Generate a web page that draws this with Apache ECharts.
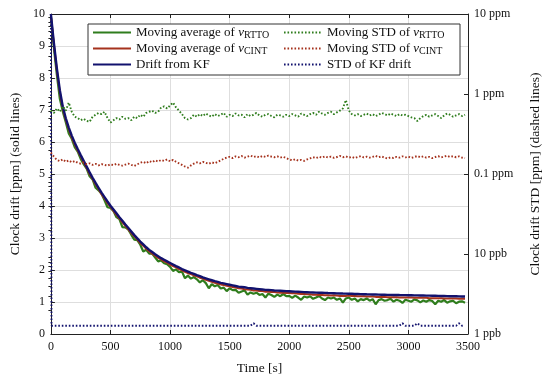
<!DOCTYPE html>
<html><head><meta charset="utf-8">
<script src="https://cdn.jsdelivr.net/npm/echarts@6/dist/echarts.min.js"></script>
<style>html,body{margin:0;padding:0;background:#fff}#c{width:550px;height:380px}</style>
</head><body><div id="c"></div>
<script>
// ---- data (time grid in seconds) ----
const times = [
0,25,50,75,100,125,150,175,200,225,
250,275,300,325,350,375,400,425,450,475,
500,525,550,575,600,625,650,675,700,725,
750,775,800,825,850,875,900,925,950,975,
1000,1025,1050,1075,1100,1125,1150,1175,1200,1225,
1250,1275,1300,1325,1350,1375,1400,1425,1450,1475,
1500,1525,1550,1575,1600,1625,1650,1675,1700,1725,
1750,1775,1800,1825,1850,1875,1900,1925,1950,1975,
2000,2025,2050,2075,2100,2125,2150,2175,2200,2225,
2250,2275,2300,2325,2350,2375,2400,2425,2450,2475,
2500,2525,2550,2575,2600,2625,2650,2675,2700,2725,
2750,2775,2800,2825,2850,2875,2900,2925,2950,2975,
3000,3025,3050,3075,3100,3125,3150,3175,3200,3225,
3250,3275,3300,3325,3350,3375,3400,3425,3450,3475];

// Drift from KF [ppm]
const kfDrift = [
10.0,9.10,8.30,7.62,7.10,6.74,6.45,6.20,5.98,5.78,
5.59,5.41,5.23,5.05,4.88,4.72,4.57,4.42,4.28,4.14,
4.01,3.89,3.77,3.65,3.54,3.42,3.31,3.20,3.09,2.99,
2.89,2.80,2.71,2.63,2.56,2.49,2.43,2.37,2.32,2.27,
2.22,2.17,2.12,2.08,2.03,1.99,1.95,1.91,1.88,1.84,
1.81,1.77,1.74,1.71,1.68,1.65,1.63,1.60,1.58,1.56,
1.54,1.52,1.50,1.48,1.47,1.46,1.44,1.43,1.42,1.41,
1.40,1.39,1.38,1.375,1.37,1.36,1.355,1.35,1.345,1.34,
1.335,1.33,1.325,1.32,1.315,1.31,1.305,1.30,1.297,1.294,
1.29,1.287,1.284,1.28,1.277,1.274,1.27,1.267,1.264,1.262,
1.26,1.256,1.252,1.25,1.247,1.244,1.24,1.238,1.236,1.233,
1.23,1.228,1.226,1.224,1.222,1.22,1.222,1.218,1.215,1.214,
1.212,1.21,1.208,1.206,1.205,1.203,1.20,1.198,1.196,1.194,
1.19,1.188,1.186,1.184,1.182,1.18,1.178,1.176,1.174,1.17];

// Moving average of nu_RTTO [ppm]
const avgRTTO = [
9.90,8.95,8.10,7.35,6.95,6.62,6.27,6.10,5.84,5.70,
5.47,5.31,5.17,4.93,4.83,4.57,4.49,4.38,4.18,3.96,
3.94,3.84,3.65,3.59,3.34,3.33,3.26,3.10,2.95,2.93,
2.79,2.58,2.63,2.51,2.51,2.39,2.27,2.30,2.21,2.18,
2.10,1.97,2.02,1.93,1.95,1.74,1.83,1.73,1.78,1.71,
1.61,1.68,1.59,1.43,1.56,1.49,1.53,1.42,1.45,1.34,
1.43,1.37,1.38,1.29,1.33,1.36,1.23,1.30,1.26,1.29,
1.22,1.25,1.14,1.26,1.22,1.16,1.23,1.18,1.25,1.18,
1.19,1.13,1.20,1.14,1.07,1.17,1.14,1.18,1.10,1.14,
1.19,1.11,1.06,1.14,1.11,1.14,1.07,1.11,0.98,1.11,
1.14,1.07,1.11,1.02,1.09,1.06,1.11,1.04,1.09,0.93,
1.06,1.09,1.04,1.06,1.10,1.01,1.07,1.04,0.97,1.07,
1.04,1.01,1.08,1.05,0.99,1.05,1.01,1.06,1.03,0.93,
1.04,1.01,1.06,0.98,1.02,1.04,0.96,1.01,1.02,0.98];

// Moving average of nu_CINT [ppm]
const avgCINT = [
9.95,9.05,8.24,7.55,7.04,6.69,6.40,6.14,5.93,5.73,
5.55,5.36,5.19,5.00,4.84,4.67,4.53,4.37,4.24,4.09,
3.97,3.85,3.72,3.61,3.49,3.38,3.27,3.15,3.05,2.95,
2.84,2.76,2.66,2.59,2.51,2.45,2.38,2.33,2.27,2.23,
2.17,2.12,2.08,2.03,1.99,1.94,1.90,1.87,1.83,1.80,
1.76,1.73,1.69,1.66,1.63,1.60,1.58,1.55,1.53,1.51,
1.49,1.47,1.45,1.43,1.42,1.40,1.39,1.38,1.36,1.36,
1.34,1.34,1.32,1.32,1.31,1.31,1.30,1.29,1.29,1.28,
1.28,1.27,1.27,1.26,1.25,1.25,1.24,1.24,1.23,1.23,
1.22,1.22,1.21,1.21,1.20,1.21,1.20,1.19,1.19,1.19,
1.20,1.19,1.19,1.18,1.18,1.18,1.17,1.17,1.17,1.16,
1.16,1.16,1.16,1.15,1.15,1.15,1.15,1.14,1.14,1.14,
1.14,1.14,1.13,1.13,1.13,1.13,1.13,1.12,1.12,1.12,
1.12,1.12,1.11,1.11,1.11,1.11,1.11,1.10,1.10,1.10];

// Moving STD of nu_RTTO [ppm] (right, log axis)
const stdRTTO = [
0.62,0.58,0.66,0.60,0.70,0.62,0.78,0.60,0.52,0.50,
0.47,0.49,0.46,0.45,0.52,0.55,0.58,0.56,0.60,0.50,
0.44,0.47,0.50,0.48,0.52,0.49,0.50,0.47,0.52,0.50,
0.55,0.52,0.58,0.60,0.62,0.58,0.60,0.68,0.70,0.66,
0.72,0.78,0.68,0.62,0.56,0.50,0.48,0.50,0.55,0.52,
0.56,0.53,0.57,0.54,0.52,0.56,0.53,0.55,0.58,0.52,
0.55,0.53,0.57,0.54,0.55,0.51,0.56,0.53,0.55,0.58,
0.54,0.52,0.55,0.56,0.53,0.51,0.55,0.54,0.52,0.55,
0.53,0.56,0.54,0.52,0.57,0.55,0.53,0.56,0.58,0.55,
0.60,0.57,0.55,0.58,0.60,0.56,0.59,0.62,0.66,0.84,
0.62,0.56,0.54,0.56,0.53,0.55,0.57,0.54,0.56,0.53,
0.55,0.58,0.56,0.54,0.57,0.55,0.53,0.56,0.54,0.55,
0.53,0.51,0.50,0.46,0.50,0.53,0.55,0.52,0.54,0.56,
0.53,0.50,0.54,0.57,0.55,0.52,0.54,0.56,0.53,0.55];

// Moving STD of nu_CINT [ppm]
const stdCINT = [
0.185,0.165,0.150,0.145,0.152,0.142,0.148,0.140,0.145,0.138,
0.135,0.140,0.132,0.136,0.130,0.134,0.128,0.133,0.130,0.127,
0.132,0.129,0.134,0.130,0.127,0.131,0.135,0.130,0.126,0.132,
0.138,0.142,0.136,0.145,0.140,0.148,0.143,0.150,0.146,0.152,
0.144,0.150,0.142,0.136,0.130,0.124,0.120,0.128,0.135,0.140,
0.136,0.142,0.138,0.134,0.140,0.136,0.142,0.148,0.155,0.160,
0.164,0.158,0.166,0.162,0.168,0.160,0.165,0.170,0.163,0.167,
0.161,0.168,0.164,0.170,0.165,0.162,0.166,0.160,0.164,0.158,
0.152,0.148,0.153,0.147,0.150,0.146,0.152,0.157,0.162,0.158,
0.164,0.160,0.166,0.161,0.165,0.159,0.163,0.168,0.162,0.166,
0.160,0.164,0.158,0.163,0.167,0.161,0.165,0.160,0.164,0.169,
0.162,0.166,0.160,0.156,0.162,0.158,0.164,0.160,0.166,0.161,
0.165,0.159,0.163,0.168,0.162,0.166,0.160,0.164,0.158,0.163,
0.167,0.161,0.165,0.169,0.163,0.167,0.162,0.166,0.160,0.158];

// STD of KF drift [ppm]
const kfStdTimes = [0,5,1675,1700,1725,2925,2950,2975,3050,3075,3100,3400,3425,3450,3470];
const kfStd      = [10,0.00127,0.00127,0.00136,0.00127,0.00127,0.00136,0.00127,0.00127,0.00136,0.00127,0.00127,0.00136,0.00127,0.00127];

// axis tick labels
const xTicks = [0,500,1000,1500,2000,2500,3000,3500];
const rightTickLabels = {'-3':'1 ppb','-2':'10 ppb','-1':'0.1 ppm','0':'1 ppm','1':'10 ppm'};
const decades = [-3,-2,-1,0];
const minorMultipliers = [2,3,4,5,6,7,8,9];

const legendText = {
  avgRTTO: 'Moving average of {i|ν}{s|RTTO}',
  avgCINT: 'Moving average of {i|ν}{s|CINT}',
  kf: 'Drift from KF',
  stdRTTO: 'Moving STD of {i|ν}{s|RTTO}',
  stdCINT: 'Moving STD of {i|ν}{s|CINT}',
  kfStd: 'STD of KF drift'
};

const FONT = 'Liberation Serif';
const GREEN = '#2f7d1d', RED = '#a5321d', BLUE = '#12126e';
const pair = (t, v) => t.map((x, i) => [x, v[i]]);
const minorLogPositions = [];
decades.forEach(d => minorMultipliers.forEach(k => minorLogPositions.push(d + Math.log10(k))));

const chart = echarts.init(document.getElementById('c'));
const axisCommon = {
  axisLine: {show: true, onZero: false, lineStyle: {color: '#222', width: 1}},
  axisTick: {show: true, inside: true, length: 4, lineStyle: {color: '#222'}},
  axisLabel: {fontFamily: FONT, fontSize: 12, color: '#111'},
  nameTextStyle: {fontFamily: FONT, fontSize: 13.5, color: '#111'}
};
const rich = {
  i: {fontFamily: FONT, fontStyle: 'italic', fontSize: 13, color: '#111', lineHeight: 15},
  s: {fontFamily: FONT, fontSize: 10, color: '#111', lineHeight: 8, verticalAlign: 'bottom'}
};
const legendCommon = {
  orient: 'vertical', top: 25, padding: 0, itemWidth: 38, itemHeight: 14, itemGap: 1, z: 60,
  selectedMode: false,
  itemStyle: {opacity: 0},
  textStyle: {fontFamily: FONT, fontSize: 13, color: '#111', lineHeight: 15, rich: rich},
  formatter: n => legendText[n]
};
const solid = (name, data, color, w) => ({
  name, type: 'line', yAxisIndex: 0, data, symbol: 'none', smooth: false,
  lineStyle: {color, width: w}, itemStyle: {color}, z: 2, animation: false
});
const dotted = (name, data, color) => ({
  name, type: 'line', yAxisIndex: 1, data, symbol: 'none',
  lineStyle: {color, width: 1.9, type: [1.6, 1.9]}, itemStyle: {color}, z: 3, animation: false
});

chart.setOption({
  animation: false,
  backgroundColor: '#fff',
  grid: {left: 43, right: 80, top: 14, bottom: 46},
  graphic: [{type: 'rect', z: 50, shape: {x: 88, y: 24, width: 372, height: 51},
    style: {fill: '#fff', stroke: '#333', lineWidth: 1}}],
  legend: [
    Object.assign({left: 92, data: ['avgRTTO', 'avgCINT', 'kf']}, legendCommon),
    Object.assign({left: 283, data: ['stdRTTO', 'stdCINT', 'kfStd']}, legendCommon)
  ],
  xAxis: [
    Object.assign({}, axisCommon, {type: 'value', min: xTicks[0], max: xTicks[xTicks.length - 1], interval: 500,
      position: 'bottom', name: 'Time [s]', nameLocation: 'middle', nameGap: 27,
      axisLabel: Object.assign({}, axisCommon.axisLabel, {margin: 7, formatter: v => String(v)}),
      splitLine: {show: true, lineStyle: {color: '#dedede', width: 1}}}),
    Object.assign({}, axisCommon, {type: 'value', min: xTicks[0], max: xTicks[xTicks.length - 1], interval: 500,
      position: 'top', axisLabel: {show: false}, splitLine: {show: false}})
  ],
  yAxis: [
    Object.assign({}, axisCommon, {type: 'value', min: 0, max: 10, interval: 1, position: 'left',
      name: 'Clock drift [ppm] (solid lines)', nameLocation: 'middle', nameGap: 24,
      axisLabel: Object.assign({}, axisCommon.axisLabel, {margin: 6}),
      splitLine: {show: true, lineStyle: {color: '#dedede', width: 1}}}),
    Object.assign({}, axisCommon, {type: 'log', logBase: 10, min: 0.001, max: 10, position: 'right',
      name: 'Clock drift STD [ppm] (dashed lines)', nameLocation: 'middle', nameGap: 60,
      axisLabel: Object.assign({}, axisCommon.axisLabel, {margin: 6,
        formatter: v => rightTickLabels[String(Math.round(Math.log10(v)))] || ''}),
      splitLine: {show: false}}),
    // helper axis (log10 exponent) carrying the logarithmic minor ticks of the right axis
    {type: 'value', min: -3, max: 1, position: 'right', axisLine: {show: false},
      axisLabel: {show: false}, splitLine: {show: false},
      axisTick: {show: true, inside: true, length: 2.5, customValues: minorLogPositions,
        lineStyle: {color: '#222'}}}
  ],
  series: [
    solid('avgRTTO', pair(times, avgRTTO), GREEN, 2.2),
    solid('avgCINT', pair(times, avgCINT), RED, 2),
    solid('kf', pair(times, kfDrift), BLUE, 2.4),
    dotted('stdRTTO', pair(times, stdRTTO), GREEN),
    dotted('stdCINT', pair(times, stdCINT), RED),
    dotted('kfStd', pair(kfStdTimes, kfStd), BLUE)
  ]
});
</script></body></html>
